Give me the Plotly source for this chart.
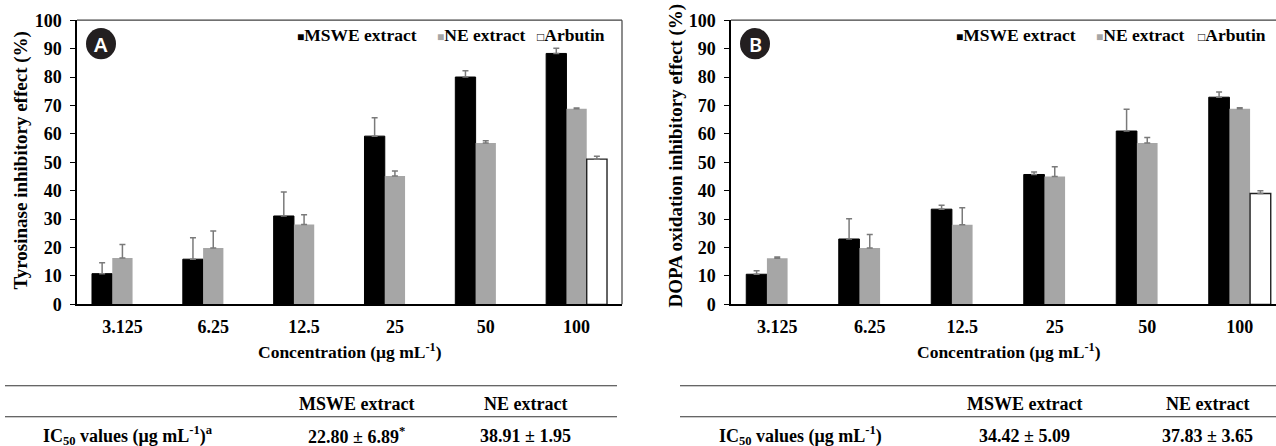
import plotly.graph_objects as go

W, H = 1276, 464

# ---------------- data ----------------
concentrations = ["3.125", "6.25", "12.5", "25", "50", "100"]
series_names = ["MSWE extract", "NE extract", "Arbutin"]

tyr_mswe = [10.8, 15.9, 31.1, 59.2, 80.0, 88.3]
tyr_mswe_err = [3.8, 7.5, 8.4, 6.5, 2.2, 1.8]
tyr_ne = [16.3, 19.8, 28.1, 45.2, 56.8, 68.8]
tyr_ne_err = [4.8, 6.0, 3.4, 1.7, 0.8, 0.3]
tyr_arb = [None, None, None, None, None, 51.1]
tyr_arb_err = [None, None, None, None, None, 1.0]

dopa_mswe = [10.6, 23.0, 33.5, 45.7, 61.0, 72.9]
dopa_mswe_err = [1.2, 7.1, 1.4, 0.9, 7.7, 1.8]
dopa_ne = [16.2, 19.8, 28.0, 45.0, 56.8, 68.8]
dopa_ne_err = [0.5, 4.8, 6.0, 3.4, 1.9, 0.4]
dopa_arb = [None, None, None, None, None, 39.0]
dopa_arb_err = [None, None, None, None, None, 1.0]

table_a_header = ["MSWE extract", "NE extract"]
table_a_values = ["22.80 ± 6.89<sup>*</sup>", "38.91 ± 1.95"]
table_a_label = "IC<sub>50</sub> values (μg mL<sup>-1</sup>)<sup>a</sup>"
table_b_header = ["MSWE extract", "NE extract"]
table_b_values = ["34.42 ± 5.09", "37.83 ± 3.65"]
table_b_label = "IC<sub>50</sub> values (μg mL<sup>-1</sup>)"

# ---------------- helpers ----------------
def fy(y):
    # vertical layout position (px from top)
    return (y - 9.3) / 0.958

def px(x):
    return x / W

def py(y):
    return 1 - fy(y) / H

FONT = "Liberation Serif"
BAR_COLORS = ["#000000", "#a6a6a6", "#ffffff"]
LINE_COLORS = ["#000000", "#a6a6a6", "#222222"]
LINE_WIDTHS = [1, 0, 1.4]

fig = go.Figure()

def add_panel(vals, errs, xa, ya):
    for i, (v, e) in enumerate(zip(vals, errs)):
        fig.add_trace(go.Bar(
            x=concentrations, y=v, name=series_names[i],
            marker=dict(color=BAR_COLORS[i],
                        line=dict(color=LINE_COLORS[i], width=LINE_WIDTHS[i])),
            error_y=dict(type="data", array=e,
                         arrayminus=[0 if a is not None else None for a in e],
                         symmetric=False, color="#7a7a7a", thickness=1.5, width=3),
            xaxis=xa, yaxis=ya, showlegend=False,
        ))

add_panel([tyr_mswe, tyr_ne, tyr_arb], [tyr_mswe_err, tyr_ne_err, tyr_arb_err], "x", "y")
add_panel([dopa_mswe, dopa_ne, dopa_arb], [dopa_mswe_err, dopa_ne_err, dopa_arb_err], "x2", "y2")

# panel geometry (pixels)
A_L, A_R = 77, 622
B_L, B_R_FULL = 731, 1286
TOP, BOT = 19.5, 304
B_spacing = (B_R_FULL - B_L) / 6

xcommon = dict(type="category", showgrid=False, zeroline=False, showline=True,
               linecolor="#000000", linewidth=1.5, ticks="",
               tickfont=dict(family=FONT, size=18, color="#000", weight="bold"),
               ticklabelstandoff=5, fixedrange=True)
ycommon = dict(range=[0, 100], dtick=10, showgrid=False, zeroline=False, showline=True,
               linecolor="#000000", linewidth=1.5, ticks="outside", ticklen=5,
               tickcolor="#000", tickwidth=1.2,
               tickfont=dict(family=FONT, size=18, color="#000", weight="bold"),
               ticklabelstandoff=5, fixedrange=True)

fig.update_layout(
    width=W, height=H,
    margin=dict(l=0, r=0, t=0, b=0),
    paper_bgcolor="white", plot_bgcolor="white",
    barmode="group", bargap=0.33, bargroupgap=0,
    showlegend=False,
    font=dict(family=FONT, color="#000"),
    xaxis=dict(domain=[px(A_L), px(A_R)], anchor="y", range=[-0.5, 5.5], **xcommon),
    yaxis=dict(domain=[py(BOT), py(TOP)], anchor="x", **ycommon),
    xaxis2=dict(domain=[px(B_L), 1.0], anchor="y2",
                range=[-0.5, -0.5 + (W - B_L) / B_spacing], **xcommon),
    yaxis2=dict(domain=[py(BOT), py(TOP)], anchor="x2", **ycommon),
)

shapes = []
annotations = []

# frame borders (top/right)
border = dict(color="#404040", width=1.2)
shapes.append(dict(type="line", xref="paper", yref="paper", x0=px(A_L), x1=px(A_R),
                   y0=py(TOP), y1=py(TOP), line=border))
shapes.append(dict(type="line", xref="paper", yref="paper", x0=px(A_R), x1=px(A_R),
                   y0=py(TOP), y1=py(BOT), line=border))
shapes.append(dict(type="line", xref="paper", yref="paper", x0=px(B_L), x1=1.0,
                   y0=py(TOP), y1=py(TOP), line=border))

# panel letter circles
for letter, cx in (("A", 101), ("B", 755)):
    shapes.append(dict(type="circle", xref="paper", yref="paper",
                       xsizemode="pixel", ysizemode="pixel",
                       xanchor=px(cx), yanchor=py(43), x0=-15, x1=15, y0=-15.6, y1=15.6,
                       fillcolor="#231f20", line=dict(width=0)))
    annotations.append(dict(xref="paper", yref="paper", x=px(cx), y=py(43.5),
                            text=letter, showarrow=False, xanchor="center", yanchor="middle",
                            font=dict(family="Noto Sans", size=20, color="white", weight=600)))

# legends
def legend(xs, y):
    marks = [("■", "#000000"), ("■", "#a6a6a6"), ("□", "#000000")]
    for (sym, col), name, x in zip(marks, series_names, xs):
        annotations.append(dict(
            xref="paper", yref="paper", x=px(x), y=py(y), xanchor="left", yanchor="middle",
            showarrow=False,
            text=f"<span style='color:{col};font-size:12px'>{sym}</span><b>{name}</b>",
            font=dict(family=FONT, size=17.5, color="#000")))

legend([295, 435, 535], 34)
legend([954, 1094, 1196], 34)

# axis titles
for cx in ((A_L + A_R) / 2, (B_L + B_R_FULL) / 2):
    annotations.append(dict(xref="paper", yref="paper", x=px(cx), y=py(351),
                            text="<b>Concentration (μg mL<sup>-1</sup>)</b>", showarrow=False,
                            xanchor="center", yanchor="middle",
                            font=dict(family=FONT, size=17.5, color="#000")))
annotations.append(dict(xref="paper", yref="paper", x=px(21), y=py(160),
                        text="<b>Tyrosinase inhibitory effect (%)</b>", showarrow=False,
                        textangle=-90, xanchor="center", yanchor="middle",
                        font=dict(family=FONT, size=19, color="#000")))
annotations.append(dict(xref="paper", yref="paper", x=px(676), y=py(155),
                        text="<b>DOPA oxidation inhibitory effect (%)</b>", showarrow=False,
                        textangle=-90, xanchor="center", yanchor="middle",
                        font=dict(family=FONT, size=19, color="#000")))

# tables
def table(x0, x1, label_x, col_xs, header, values, label):
    for yy in (385.5, 416.5):
        shapes.append(dict(type="line", xref="paper", yref="paper", x0=px(x0), x1=px(x1),
                           y0=py(yy), y1=py(yy), line=dict(color="#333333", width=1.2)))
    for cx, h, v in zip(col_xs, header, values):
        annotations.append(dict(xref="paper", yref="paper", x=px(cx), y=py(404),
                                text=f"<b>{h}</b>", showarrow=False, xanchor="center",
                                yanchor="middle", font=dict(family=FONT, size=18, color="#000")))
        annotations.append(dict(xref="paper", yref="paper", x=px(cx), y=py(435.5),
                                text=f"<b>{v}</b>", showarrow=False, xanchor="center",
                                yanchor="middle", font=dict(family=FONT, size=18, color="#000")))
    annotations.append(dict(xref="paper", yref="paper", x=px(label_x), y=py(435.5),
                            text=f"<b>{label}</b>", showarrow=False, xanchor="left",
                            yanchor="middle", font=dict(family=FONT, size=18, color="#000")))

table(5, 617, 41, [356, 525], table_a_header, table_a_values, table_a_label)
table(680, 1276, 717, [1024, 1207], table_b_header, table_b_values, table_b_label)

fig.update_layout(shapes=shapes, annotations=annotations)
fig.write_html(
    "out.html",
    config={"displayModeBar": False},
    post_script="document.body.style.margin='0';document.body.style.overflow='hidden';",
)
